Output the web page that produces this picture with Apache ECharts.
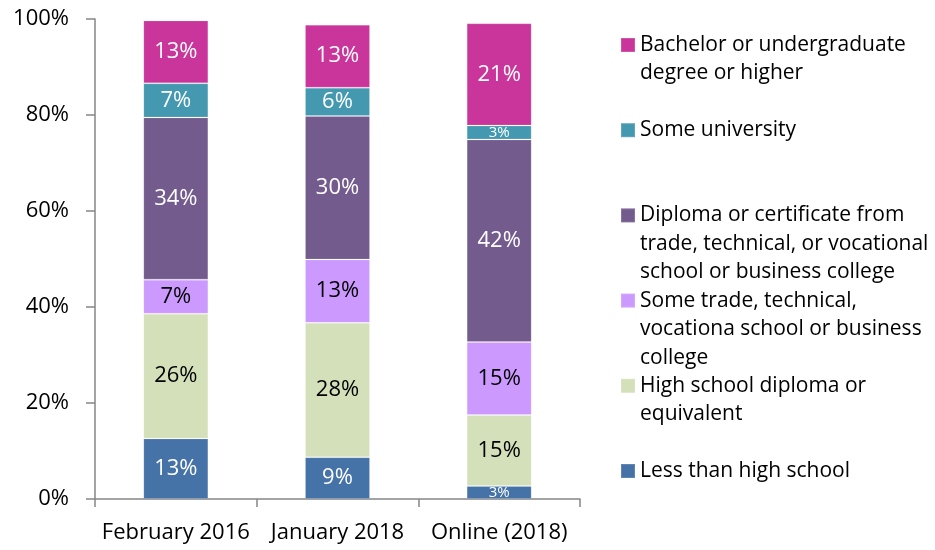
<!DOCTYPE html>
<html>
<head>
<meta charset="utf-8">
<script src="https://cdn.jsdelivr.net/npm/echarts@6/dist/echarts.min.js"></script>
<style>
  html, body { margin: 0; padding: 0; background: #fff; }
  #chart { width: 935px; height: 550px; }
</style>
</head>
<body>
<div id="chart"></div>
<script>
// survey waves
const categories = ['February 2016', 'January 2018', 'Online (2018)'];

// shares in %, bottom of the stack first
const lessThanHighSchool = [12.6, 8.7, 2.7];
const highSchool = [26.0, 28.0, 14.8];
const someTrade = [7.1, 13.2, 15.2];
const diploma = [33.8, 29.9, 42.2];
const someUniversity = [7.1, 5.9, 2.9];
const bachelor = [13.1, 13.1, 21.3];

const yTicks = [0, 20, 40, 60, 80, 100];

const seriesList = [
  { name: 'Less than high school', data: lessThanHighSchool, color: '#4572A7', text: '#fff',
    lines: ['Less than high school'] },
  { name: 'High school diploma or equivalent', data: highSchool, color: '#D4E0B9', text: '#000',
    lines: ['High school diploma or', 'equivalent'] },
  { name: 'Some trade, technical, vocationa school or business college', data: someTrade, color: '#CC99FF', text: '#000',
    lines: ['Some trade, technical,', 'vocationa school or business', 'college'] },
  { name: 'Diploma or certificate from trade, technical, or vocational school or business college', data: diploma, color: '#735B8E', text: '#fff',
    lines: ['Diploma or certificate from', 'trade, technical, or vocational', 'school or business college'] },
  { name: 'Some university', data: someUniversity, color: '#4498AF', text: '#fff',
    lines: ['Some university'] },
  { name: 'Bachelor or undergraduate degree or higher', data: bachelor, color: '#C9359A', text: '#fff',
    lines: ['Bachelor or undergraduate', 'degree or higher'] }
];

const FONT = '"Open Sans", "Noto Sans", sans-serif';
const LH = 28.5;

// legend runs top to bottom in reverse stack order, icon beside the first line
const legendOrder = seriesList.slice().reverse();
const legends = legendOrder.map((s, i) => {
  const n = s.lines.length;
  const iconY = 45 + i * 85.2;
  return {
    data: [s.name],
    orient: 'vertical',
    left: 620,
    top: iconY - (n - 1) * LH - LH / 2,
    padding: 0,
    icon: 'rect',
    itemWidth: 14,
    itemHeight: 14,
    itemGap: 0,
    formatter: () => '\n'.repeat(n - 1) + s.lines.join('\n'),
    textStyle: { fontFamily: FONT, fontSize: 21, color: '#000', lineHeight: LH }
  };
});

const chart = echarts.init(document.getElementById('chart'));
chart.setOption({
  animation: false,
  backgroundColor: '#fff',
  grid: { left: 95, top: 19, width: 485, height: 480 },
  legend: legends,
  xAxis: {
    type: 'category',
    data: categories,
    axisLine: { lineStyle: { color: '#868686', width: 1.5 } },
    axisTick: { show: true, length: 8, lineStyle: { color: '#868686', width: 1.5 } },
    axisLabel: { color: '#000', fontFamily: FONT, fontSize: 22, margin: 23, interval: 0, hideOverlap: false }
  },
  yAxis: {
    type: 'value',
    min: 0,
    max: 100,
    interval: 20,
    axisLine: { show: true, lineStyle: { color: '#868686', width: 1.5 } },
    axisTick: { show: true, inside: false, length: 9, lineStyle: { color: '#868686', width: 1.5 } },
    splitLine: { show: false },
    axisLabel: {
      color: '#000', fontFamily: FONT, fontSize: 22, margin: 26,
      formatter: v => (yTicks.includes(v) ? v + '%' : '')
    }
  },
  series: seriesList.map(s => ({
    name: s.name,
    type: 'bar',
    stack: 'total',
    barWidth: 65,
    data: s.data.map(v => ({
      value: v,
      label: { fontSize: v < 4 ? 15 : 22 }
    })),
    itemStyle: { color: s.color, borderColor: 'rgba(255,255,255,0.15)', borderWidth: 1 },
    label: {
      show: true,
      position: 'inside',
      color: s.text,
      fontFamily: FONT,
      formatter: p => Math.round(p.value) + '%'
    }
  }))
});

window.addEventListener('resize', function () {
  chart.resize();
});
</script>
</body>
</html>
